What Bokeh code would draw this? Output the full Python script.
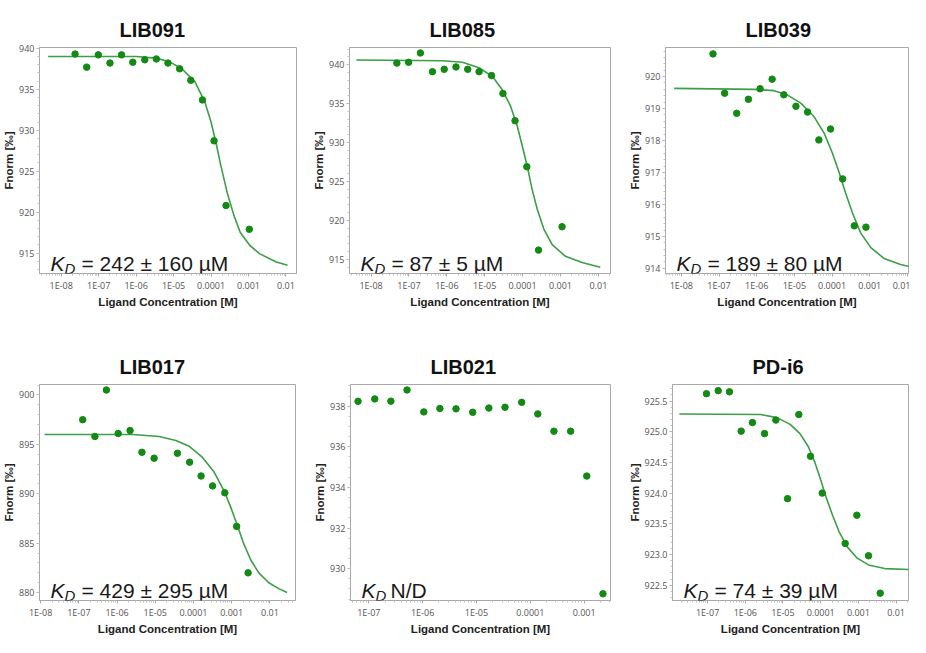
import numpy as np
from bokeh.plotting import figure
from bokeh.layouts import column, row
from bokeh.models import FixedTicker, Range1d, Label, NumeralTickFormatter
from bokeh.embed import file_html
from bokeh.resources import INLINE

# ---------------- shared axis labels ----------------
x_tick_values = [1e-8, 1e-7, 1e-6, 1e-5, 1e-4, 1e-3, 1e-2]
x_tick_labels = ["1E-08", "1E-07", "1E-06", "1E-05", "0.0001", "0.001", "0.01"]
x_axis_title = "Ligand Concentration [M]"
y_axis_title = "Fnorm [‰]"

# ---------------- LIB091 ----------------
lib091_conc = [2.34e-8, 4.79e-8, 9.77e-8, 2.00e-7, 4.07e-7, 8.13e-7, 1.70e-6, 3.47e-6,
               7.08e-6, 1.45e-5, 2.88e-5, 5.89e-5, 1.20e-4, 2.51e-4, 1.05e-3]
lib091_fnorm = [939.3, 937.7, 939.2, 938.2, 939.2, 938.3, 938.6, 938.7,
                938.2, 937.5, 936.1, 933.7, 928.7, 920.8, 917.9]
lib091_fit_conc = [4.47e-9, 1.0e-6, 3.31e-6, 7.41e-6, 1.66e-5, 3.72e-5, 6.76e-5, 1.0e-4, 1.35e-4,
                   1.82e-4, 2.69e-4, 4.07e-4, 6.03e-4, 1.10e-3, 2.0e-3, 5.50e-3, 1.10e-2]
lib091_fit_fnorm = [939.0, 939.0, 938.8, 938.4, 937.5, 935.9, 933.5, 931.0, 928.5,
                    925.7, 922.4, 919.6, 917.5, 915.9, 914.9, 913.9, 913.5]
lib091_yticks = [915, 920, 925, 930, 935, 940]
lib091_kd = "= 242 ± 160 µM"

# ---------------- LIB085 ----------------
lib085_conc = [4.79e-8, 9.77e-8, 2.00e-7, 4.17e-7, 8.51e-7, 1.74e-6, 3.55e-6, 7.08e-6,
               1.51e-5, 3.02e-5, 6.31e-5, 1.29e-4, 2.63e-4, 1.10e-3]
lib085_fnorm = [940.2, 940.3, 941.5, 939.1, 939.4, 939.7, 939.4, 939.1,
                938.6, 936.3, 932.8, 926.9, 916.2, 919.2]
lib085_fit_conc = [4.07e-9, 7.76e-7, 2.57e-6, 7.08e-6, 1.58e-5, 2.88e-5, 4.79e-5, 7.24e-5, 9.77e-5,
                   1.32e-4, 1.78e-4, 2.45e-4, 3.63e-4, 6.03e-4, 1.35e-3, 3.72e-3, 1.12e-2]
lib085_fit_fnorm = [940.6, 940.5, 940.3, 939.6, 938.5, 936.8, 934.7, 932.1, 929.6,
                    927.0, 924.0, 921.4, 918.9, 916.9, 915.4, 914.6, 914.0]
lib085_yticks = [915, 920, 925, 930, 935, 940]
lib085_kd = "= 87 ± 5 µM"

# ---------------- LIB039 ----------------
lib039_conc = [6.92e-8, 1.41e-7, 2.95e-7, 6.03e-7, 1.23e-6, 2.57e-6, 5.25e-6, 1.10e-5,
               2.24e-5, 4.47e-5, 9.12e-5, 1.91e-4, 3.89e-4, 7.94e-4]
lib039_fnorm = [920.71, 919.48, 918.85, 919.29, 919.62, 919.92, 919.43, 919.07,
                918.89, 918.02, 918.36, 916.80, 915.33, 915.29]
lib039_fit_conc = [6.46e-9, 8.51e-7, 2.88e-6, 6.46e-6, 1.48e-5, 3.31e-5, 6.17e-5, 1.02e-4,
                   1.55e-4, 2.29e-4, 3.47e-4, 5.75e-4, 1.07e-3, 2.40e-3, 6.61e-3, 1.86e-2]
lib039_fit_fnorm = [919.63, 919.60, 919.56, 919.43, 919.17, 918.75, 918.23, 917.61,
                    916.99, 916.36, 915.74, 915.11, 914.65, 914.31, 914.12, 914.00]
lib039_yticks = [914, 915, 916, 917, 918, 919, 920]
lib039_kd = "= 189 ± 80 µM"

# ---------------- LIB017 ----------------
lib017_conc = [1.26e-7, 2.63e-7, 5.25e-7, 1.07e-6, 2.19e-6, 4.47e-6, 9.33e-6,
               3.80e-5, 7.94e-5, 1.58e-4, 3.16e-4, 6.61e-4, 1.35e-3, 2.69e-3]
lib017_fnorm = [897.5, 895.8, 900.5, 896.1, 896.4, 894.2, 893.6,
                894.1, 893.2, 891.8, 890.8, 890.1, 886.7, 882.0]
lib017_fit_conc = [1.26e-8, 2.57e-6, 1.26e-5, 3.47e-5, 7.76e-5, 1.70e-4, 3.47e-4, 6.31e-4,
                   9.33e-4, 1.41e-3, 2.09e-3, 3.16e-3, 5.13e-3, 9.33e-3, 1.70e-2, 2.82e-2]
lib017_fit_fnorm = [896.0, 896.0, 895.8, 895.4, 894.8, 893.7, 892.2, 890.3,
                    888.7, 886.8, 884.9, 883.3, 882.0, 881.0, 880.4, 880.0]
lib017_yticks = [880, 885, 890, 895, 900]
lib017_kd = "= 429 ± 295 µM"

# ---------------- LIB021 ----------------
lib021_conc = [6.31e-8, 1.29e-7, 2.57e-7, 5.13e-7, 1.05e-6, 2.09e-6, 4.17e-6, 8.51e-6,
               1.70e-5, 3.39e-5, 6.92e-5, 1.38e-4, 2.75e-4, 5.62e-4, 1.12e-3, 2.24e-3]
lib021_fnorm = [938.24, 938.36, 938.25, 938.80, 937.72, 937.89, 937.87, 937.70,
                937.91, 937.95, 938.19, 937.62, 936.77, 936.77, 934.56, 928.76]
lib021_yticks = [930, 932, 934, 936, 938]
lib021_kd = "N/D"

# ---------------- PD-i6 ----------------
pdi6_conc = [9.33e-8, 1.91e-7, 3.80e-7, 7.76e-7, 1.55e-6, 3.24e-6, 6.46e-6, 1.32e-5,
             2.63e-5, 5.37e-5, 1.10e-4, 4.47e-4, 9.12e-4, 1.86e-3, 3.80e-3]
pdi6_fnorm = [925.62, 925.67, 925.65, 925.01, 925.15, 924.97, 925.19, 923.91,
              925.28, 924.60, 924.00, 923.18, 923.64, 922.98, 922.37]
pdi6_fit_conc = [1.78e-8, 2.57e-6, 6.92e-6, 1.55e-5, 2.82e-5, 4.68e-5, 6.92e-5, 1.02e-4,
                 1.38e-4, 2.09e-4, 3.09e-4, 5.13e-4, 9.33e-4, 1.86e-3, 5.01e-3, 3.72e-2]
pdi6_fit_fnorm = [925.29, 925.28, 925.23, 925.12, 924.97, 924.76, 924.51, 924.20,
                  923.94, 923.63, 923.37, 923.12, 922.94, 922.83, 922.77, 922.75]
pdi6_yticks = [922.5, 923.0, 923.5, 924.0, 924.5, 925.0, 925.5]
pdi6_kd = "= 74 ± 39 µM"

DOT = "#138a13"
LINE = "#3c9e46"
AXIS_GRAY = "#a8a8a8"
TICK_TXT = "#555555"


def make_panel(title, conc, fnorm, fit_conc, fit_fnorm, kd_rest, xr, yr, yticks, yminor,
               width, height, b_left, b_right, b_top, b_bottom, yfmt=None, kd_gap=31,
               title_valign="bottom", title_standoff=14):
    p = figure(width=width, height=height, x_axis_type="log",
               x_range=Range1d(*xr), y_range=Range1d(*yr),
               output_backend="svg", toolbar_location=None,
               min_border_left=b_left, min_border_right=b_right,
               min_border_top=b_top, min_border_bottom=b_bottom,
               title=title)
    p.title.text_font = "Liberation Sans"
    p.title.text_font_size = "20px"
    p.title.text_font_style = "bold"
    p.title.text_color = "#111111"
    p.title.align = "left"
    p.title.offset = 80
    p.title.vertical_align = title_valign
    p.title.standoff = title_standoff

    p.outline_line_color = AXIS_GRAY
    p.outline_line_width = 1
    p.grid.visible = False
    p.background_fill_color = "white"
    p.border_fill_color = "white"

    # x axis
    xa = p.xaxis[0]
    minors = [m * 10.0 ** e for e in range(-9, 0) for m in range(2, 10)]
    xa.ticker = FixedTicker(ticks=x_tick_values, minor_ticks=minors)
    xa.major_label_overrides = dict(zip(x_tick_values, x_tick_labels))
    xa.axis_label = x_axis_title
    # y axis
    ya = p.yaxis[0]
    ya.ticker = FixedTicker(ticks=yticks, minor_ticks=list(yminor))
    ya.axis_label = y_axis_title
    if yfmt:
        ya.formatter = NumeralTickFormatter(format=yfmt)
    for ax in (xa, ya):
        ax.axis_line_color = AXIS_GRAY
        ax.major_tick_line_color = AXIS_GRAY
        ax.minor_tick_line_color = "#c0c0c0"
        ax.major_tick_out = 3
        ax.major_tick_in = 0
        ax.minor_tick_out = 2
        ax.minor_tick_in = 0
        ax.major_label_text_font = "Open Sans"
        ax.major_label_text_font_size = "9px"
        ax.major_label_text_color = TICK_TXT
        ax.major_label_standoff = 2
        ax.axis_label_text_font = "Liberation Sans"
        ax.axis_label_text_font_size = "11.5px"
        ax.axis_label_text_font_style = "bold"
        ax.axis_label_text_color = "#222222"
        ax.axis_label_standoff = 1

    if fit_conc is not None:
        p.line(fit_conc, fit_fnorm, line_color=LINE, line_width=1.6)
    p.scatter(conc, fnorm, size=6.5, fill_color=DOT, line_color=DOT)

    # K_D annotation
    kx, ky = 11, 10
    p.add_layout(Label(x=kx, y=ky, x_units="screen", y_units="screen", text="K",
                       text_font="Liberation Sans", text_font_size="21px",
                       text_font_style="italic", text_color="#1a1a1a",
                       text_baseline="alphabetic"))
    p.add_layout(Label(x=kx + 14, y=ky - 5, x_units="screen", y_units="screen", text="D",
                       text_font="Liberation Sans", text_font_size="15px",
                       text_font_style="italic", text_color="#1a1a1a",
                       text_baseline="alphabetic"))
    p.add_layout(Label(x=kx + kd_gap, y=ky, x_units="screen", y_units="screen", text=kd_rest,
                       text_font="Liberation Sans", text_font_size="21px",
                       text_color="#1a1a1a", text_baseline="alphabetic"))
    return p


row1 = dict(title_valign="top", title_standoff=10)
p1 = make_panel("LIB091", lib091_conc, lib091_fnorm, lib091_fit_conc, lib091_fit_fnorm, lib091_kd,
                (2.63e-9, 1.91e-2), (912.5, 940.1), lib091_yticks, np.arange(913, 941, 1.0),
                310, 327, 34, 14, 47, 54, **row1)
p2 = make_panel("LIB085", lib085_conc, lib085_fnorm, lib085_fit_conc, lib085_fit_fnorm, lib085_kd,
                (2.69e-9, 2.09e-2), (913.2, 942.2), lib085_yticks, np.arange(914, 943, 1.0),
                315, 327, 39, 15, 47, 54, **row1)
p3 = make_panel("LIB039", lib039_conc, lib039_fnorm, lib039_fit_conc, lib039_fit_fnorm, lib039_kd,
                (3.80e-9, 1.07e-2), (913.84, 920.91), lib039_yticks, np.arange(913.8, 921.0, 0.2),
                285, 327, 40, 2, 47, 54, **row1)
p4 = make_panel("LIB017", lib017_conc, lib017_fnorm, lib017_fit_conc, lib017_fit_fnorm, lib017_kd,
                (9.33e-9, 4.68e-2), (879.2, 901.06), lib017_yticks, np.arange(880, 902, 1.0),
                310, 310, 39, 15, 57, 29)
p5 = make_panel("LIB021", lib021_conc, lib021_fnorm, None, None, lib021_kd,
                (4.57e-8, 3.09e-3), (928.43, 939.07), lib021_yticks, np.arange(928.5, 939.1, 0.5),
                315, 310, 40, 15, 57, 29, kd_gap=29)
p6 = make_panel("PD-i6", pdi6_conc, pdi6_fnorm, pdi6_fit_conc, pdi6_fit_fnorm, pdi6_kd,
                (1.17e-8, 2.14e-2), (922.25, 925.77), pdi6_yticks, np.arange(922.3, 925.8, 0.1),
                285, 310, 42, 2, 57, 29, yfmt="0.0")

layout = column(row(p1, p2, p3), row(p4, p5, p6))
open("out.html", "w").write(file_html(layout, INLINE))
